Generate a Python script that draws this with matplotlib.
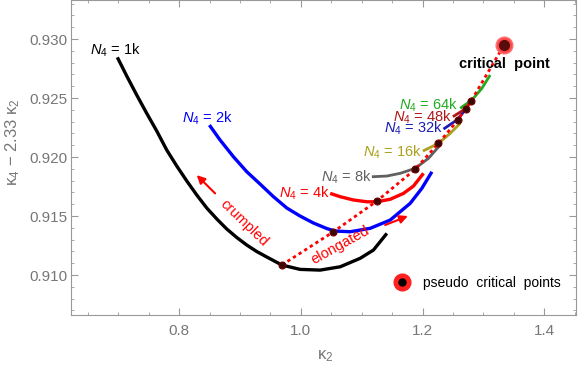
import numpy as np
import matplotlib
matplotlib.use("Agg")
import matplotlib.pyplot as plt
from matplotlib.lines import Line2D
from matplotlib.ticker import MultipleLocator

plt.rcParams['font.family'] = ['Liberation Sans', 'DejaVu Sans']
plt.rcParams['mathtext.fontset'] = 'custom'
plt.rcParams['mathtext.rm'] = 'Liberation Sans'
plt.rcParams['mathtext.it'] = 'Liberation Sans:italic'

# curves of kappa4 - 2.33 kappa2 versus kappa2 for each lattice volume
k2_1k = [0.6986, 0.7141, 0.7305, 0.7469, 0.7634, 0.7798, 0.7962, 0.8127, 0.8291, 0.8455,
         0.8620, 0.8784, 0.8948, 0.9113, 0.9277, 0.9441, 0.9688, 0.9988, 1.0317, 1.0646,
         1.0975, 1.1193, 1.1413]
v_1k = [0.92845, 0.92686, 0.92525, 0.92370, 0.92220, 0.92059, 0.91924, 0.91797, 0.91678,
        0.91568, 0.91475, 0.91390, 0.91318, 0.91254, 0.91199, 0.91153, 0.91085, 0.91048,
        0.91042, 0.91070, 0.91142, 0.91212, 0.91353]
k2_2k = [0.8498, 0.8674, 0.8892, 0.9113, 0.9331, 0.9550, 0.9770, 0.9988, 1.0207, 1.0427,
         1.0564, 1.0810, 1.1139, 1.1468, 1.1797, 1.1988, 1.2153]
v_2k = [0.92271, 0.92144, 0.92003, 0.91875, 0.91771, 0.91664, 0.91568, 0.91500, 0.91441,
        0.91394, 0.91373, 0.91367, 0.91396, 0.91466, 0.91608, 0.91735, 0.91875]
k2_4k = [1.0482, 1.0646, 1.0864, 1.1085, 1.1249, 1.1468, 1.1686, 1.1850, 1.2015]
v_4k = [0.91692, 0.91664, 0.91636, 0.91621, 0.91621, 0.91642, 0.91692, 0.91754, 0.91862]
k2_8k = [1.1167, 1.1413, 1.1632, 1.1878, 1.2097, 1.2289]
v_8k = [0.91833, 0.91839, 0.91862, 0.91904, 0.91989, 0.92102]
k2_16k = [1.2005, 1.2261, 1.2454, 1.2618]
v_16k = [0.92051, 0.92116, 0.92201, 0.92286]
k2_32k = [1.2343, 1.2564, 1.27]
v_32k = [0.92237, 0.92314, 0.92398]
k2_48k = [1.2498, 1.2672, 1.281]
v_48k = [0.92342, 0.92398, 0.92469]
k2_64k = [1.2618, 1.281, 1.2974, 1.311]
v_64k = [0.92413, 0.92483, 0.92582, 0.92695]

# pseudo critical points (1k ... 64k) and the critical point
pc_k2 = [0.9688, 1.0536, 1.1249, 1.1878, 1.2261, 1.258, 1.2705, 1.2799]
pc_v = [0.91085, 0.91367, 0.91627, 0.91896, 0.92116, 0.92314, 0.92409, 0.92477]
crit_k2 = [1.334]
crit_v = [0.9295]

curves = [(k2_1k, v_1k, 'black', 2.4), (k2_2k, v_2k, '#0000ff', 2.4), (k2_4k, v_4k, '#ff0000', 2.4),
          (k2_8k, v_8k, '#606060', 2.0), (k2_16k, v_16k, '#aaa01c', 2.0), (k2_32k, v_32k, '#1c1cb0', 2.0),
          (k2_48k, v_48k, '#b01818', 2.0), (k2_64k, v_64k, '#22aa22', 2.0)]

fig = plt.figure(figsize=(5.81, 3.68), dpi=100)
ax = fig.add_axes([0.1217, 0.1448, 0.8697, 0.855])

for k2, v, c, lw in curves:
    ax.plot(k2, v, color=c, lw=lw, solid_capstyle='butt', solid_joinstyle='round', zorder=2)

ax.plot(pc_k2 + crit_k2, pc_v + crit_v, color='red', lw=2, ls=(0, (1.2, 1.2)), zorder=3)
ax.plot(pc_k2, pc_v, 'o', ms=5, color='#3a0606', mec='#700000', mew=0.8, zorder=4)
ax.plot(crit_k2, crit_v, 'o', ms=12, color='#ff4848', mec='#ff7070', zorder=4)
ax.plot(crit_k2, crit_v, 'o', ms=7, color='#5a0c0c', zorder=5)

fs = 10.5
ax.text(0.6957, 0.92907, r'$N_4$ = 1k', color='black', fontsize=fs, ha='center', va='center')
ax.text(0.846, 0.9233, r'$N_4$ = 2k', color='#0000ff', fontsize=fs, ha='center', va='center')
ax.text(1.048, 0.91695, r'$N_4$ = 4k', color='#ff0000', fontsize=fs, ha='right', va='center')
ax.text(1.1172, 0.9183, r'$N_4$ = 8k', color='#606060', fontsize=fs, ha='right', va='center')
ax.text(1.1989, 0.92042, r'$N_4$ = 16k', color='#aaa01c', fontsize=fs, ha='right', va='center')
ax.text(1.2339, 0.92246, r'$N_4$ = 32k', color='#1c1cb0', fontsize=fs, ha='right', va='center')
ax.text(1.2481, 0.92339, r'$N_4$ = 48k', color='#b01818', fontsize=fs, ha='right', va='center')
ax.text(1.2585, 0.92441, r'$N_4$ = 64k', color='#22aa22', fontsize=fs, ha='right', va='center')
ax.text(1.334, 0.92788, 'critical  point', color='black', fontsize=fs, fontweight='bold',
        ha='center', va='center')

ax.text(0.907, 0.91438, 'crumpled', color='red', fontsize=fs, rotation=-44,
        ha='center', va='center', rotation_mode='anchor')
ax.text(1.0646, 0.91254, 'elongated', color='red', fontsize=fs, rotation=29,
        ha='center', va='center', rotation_mode='anchor')
arrow = dict(arrowstyle='-|>', color='red', lw=1.5, mutation_scale=12, shrinkA=0, shrinkB=0)
ax.annotate('', xy=(0.829, 0.91847), xytext=(0.8592, 0.91692), arrowprops=arrow)
ax.annotate('', xy=(1.1758, 0.9150), xytext=(1.1385, 0.91424), arrowprops=arrow)

h_out = Line2D([], [], ls='', marker='o', ms=12, color='#ff2020')
h_in = Line2D([], [], ls='', marker='o', ms=5, color='black')
ax.legend(handles=[(h_out, h_in)], labels=['pseudo  critical  points'], loc='center left',
          bbox_to_anchor=(0.625, 0.10), frameon=False, fontsize=10, handlelength=1.2,
          handletextpad=0.9, borderpad=0)

ax.set_xlim(0.622, 1.452)
ax.set_ylim(0.90664, 0.9333)
ax.xaxis.set_major_locator(MultipleLocator(0.2))
ax.xaxis.set_minor_locator(MultipleLocator(0.05))
ax.yaxis.set_major_locator(MultipleLocator(0.005))
ax.yaxis.set_minor_locator(MultipleLocator(0.001))
ax.xaxis.set_major_formatter(plt.FuncFormatter(lambda x, p: f'{x:.1f}'))
ax.yaxis.set_major_formatter(plt.FuncFormatter(lambda y, p: f'{y:.3f}'))

gray = '#999999'
for s in ax.spines.values():
    s.set_color(gray)
ax.tick_params(which='both', direction='in', top=True, right=True, color=gray,
               labelcolor='#777777', labelsize=11)
ax.tick_params(which='major', length=5)
ax.tick_params(which='minor', length=2.5)
ax.tick_params(axis='x', pad=7)
ax.tick_params(axis='y', pad=2.5)

ax.set_xlabel(r'$\mathrm{κ}_2$', color='#777777', fontsize=12)
ax.xaxis.set_label_coords(0.503, -0.108)
ax.set_ylabel(r'$\mathrm{κ}_4$ $-$ 2.33 $\mathrm{κ}_2$', color='#777777', fontsize=12)
ax.yaxis.set_label_coords(-0.096, 0.55)

fig.savefig('out.png', dpi=100)
